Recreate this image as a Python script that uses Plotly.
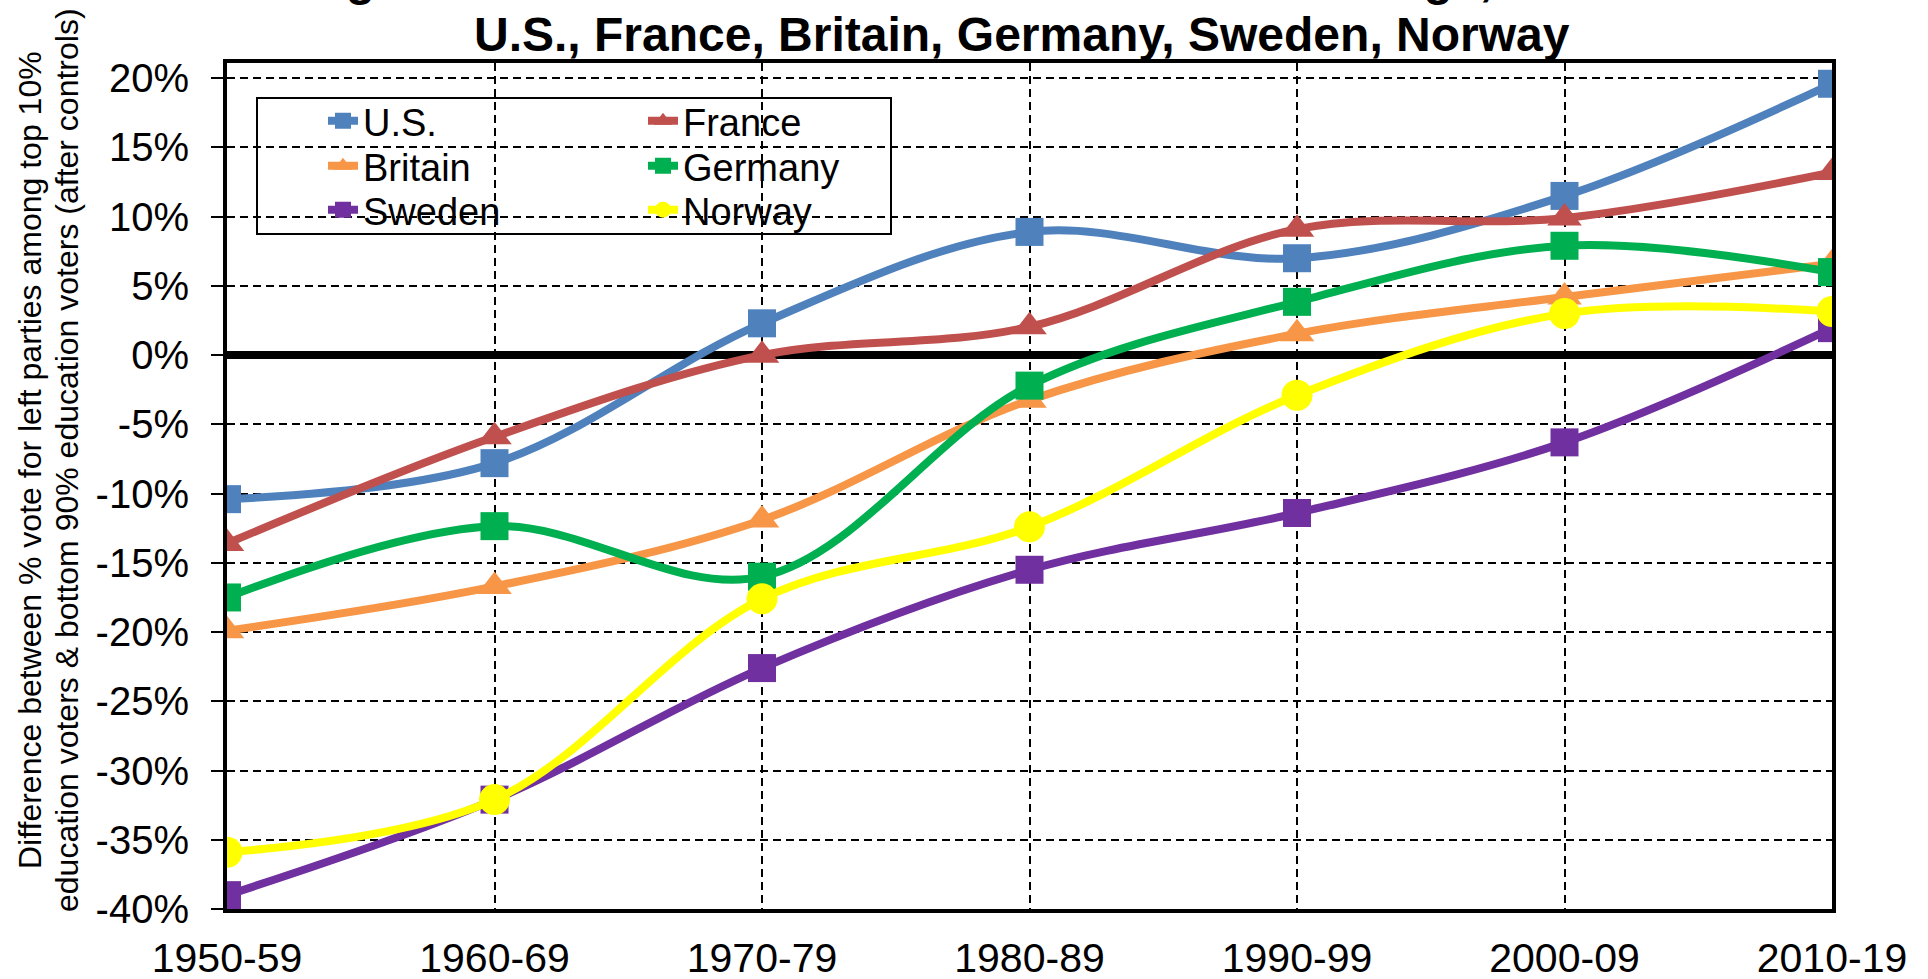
import plotly.graph_objects as go

periods = ["1950-59", "1960-69", "1970-79", "1980-89", "1990-99", "2000-09", "2010-19"]
us = [-10.4, -7.8, 2.3, 8.9, 7.0, 11.5, 19.6]
france = [-13.6, -5.9, 0.0, 2.05, 9.1, 9.9, 13.2]
britain = [-19.9, -16.7, -11.9, -3.25, 1.55, 4.2, 6.6]
germany = [-17.5, -12.35, -16.0, -2.2, 3.85, 7.9, 6.0]
sweden = [-39.0, -32.1, -22.6, -15.5, -11.4, -6.3, 1.95]
norway = [-35.9, -32.1, -17.6, -12.4, -2.9, 3.0, 3.15]

y_ticks = [-40, -35, -30, -25, -20, -15, -10, -5, 0, 5, 10, 15, 20]
y_labels = [f"{v}%" for v in y_ticks]

FONT = "Liberation Sans, Arial, sans-serif"

# figure geometry (pixels)
W, H = 1928, 979
L, R, T, B = 227, 96, 63, 70
PW, PH = W - L - R, H - T - B


def px(x):
    return (x - L) / PW


def py(y):
    return (H - B - y) / PH


series = [
    ("U.S.", us, "#4F81BD", "square", 28, "legend", 364, 121),
    ("France", france, "#C0504D", "triangle-up", 30, "legend2", 684, 121),
    ("Britain", britain, "#F79646", "triangle-up", 30, "legend3", 364, 166),
    ("Germany", germany, "#00B050", "square", 28, "legend4", 684, 166),
    ("Sweden", sweden, "#7030A0", "square", 28, "legend5", 364, 210),
    ("Norway", norway, "#FFFF00", "circle", 31, "legend6", 684, 210),
]

fig = go.Figure()
legends = {}
for name, vals, color, sym, size, leg, tx, ty in series:
    fig.add_trace(go.Scatter(
        x=periods, y=vals, name=name, mode="lines+markers",
        line=dict(color=color, width=8, shape="spline", smoothing=1.0),
        marker=dict(symbol=sym, size=size, color=color, line=dict(width=0)),
        legend=leg,
    ))
    legends[leg] = dict(
        font=dict(family=FONT, size=38, color="black"),
        bgcolor="rgba(0,0,0,0)", borderwidth=0,
        xanchor="left", yanchor="middle", orientation="v",
        x=px(tx - 41), y=py(ty),
    )

fig.update_layout(
    width=W, height=H,
    margin=dict(l=L, r=R, t=T, b=B, autoexpand=False),
    paper_bgcolor="white", plot_bgcolor="white",
    font=dict(family=FONT, color="black"),
    showlegend=True,
    **legends,
    xaxis=dict(
        type="category", range=[0, 6], automargin=False,
        showgrid=True, gridcolor="black", gridwidth=2, griddash="8px,5px",
        showline=True, linecolor="black", linewidth=4, mirror=True,
        ticks="", ticklabelstandoff=10,
        tickfont=dict(family=FONT, size=41, color="black"),
        zeroline=False,
    ),
    yaxis=dict(
        range=[-40, 21.1], automargin=False,
        tickvals=y_ticks, ticktext=y_labels,
        showgrid=True, gridcolor="black", gridwidth=2, griddash="8px,5px",
        showline=True, linecolor="black", linewidth=4, mirror=True,
        ticks="outside", ticklen=12, tickcolor="black", tickwidth=2,
        ticklabelstandoff=14,
        tickfont=dict(family=FONT, size=40, color="black"),
        zeroline=True, zerolinecolor="black", zerolinewidth=8,
    ),
    shapes=[dict(
        type="rect", xref="paper", yref="paper",
        x0=px(257), x1=px(891), y0=py(234), y1=py(98),
        line=dict(color="black", width=2), fillcolor="white", layer="between",
    )],
    annotations=[
        dict(text="<b>Figure 1.3. The reversal of the educational cleavage, 1950-2019:</b>",
             xref="paper", yref="paper", x=px(301), y=1.134, xanchor="left", yanchor="top",
             showarrow=False, font=dict(family=FONT, size=48, color="black")),
        dict(text="<b>U.S., France, Britain, Germany, Sweden, Norway</b>",
             xref="paper", yref="paper", x=px(1022), y=1.0674,
             xanchor="center", yanchor="top",
             showarrow=False, font=dict(family=FONT, size=48, color="black")),
        dict(text="Difference between % vote for left parties among top 10%",
             xref="paper", yref="paper", x=px(30), y=py(460),
             xanchor="center", yanchor="middle", textangle=-90,
             showarrow=False, font=dict(family=FONT, size=32, color="black")),
        dict(text="education voters & bottom 90% education voters (after controls)",
             xref="paper", yref="paper", x=px(67), y=py(460),
             xanchor="center", yanchor="middle", textangle=-90,
             showarrow=False, font=dict(family=FONT, size=32, color="black")),
    ],
)

fig.write_html(
    "out.html",
    config={"displayModeBar": False},
    post_script="document.body.style.margin='0';document.body.style.overflow='hidden';",
)
